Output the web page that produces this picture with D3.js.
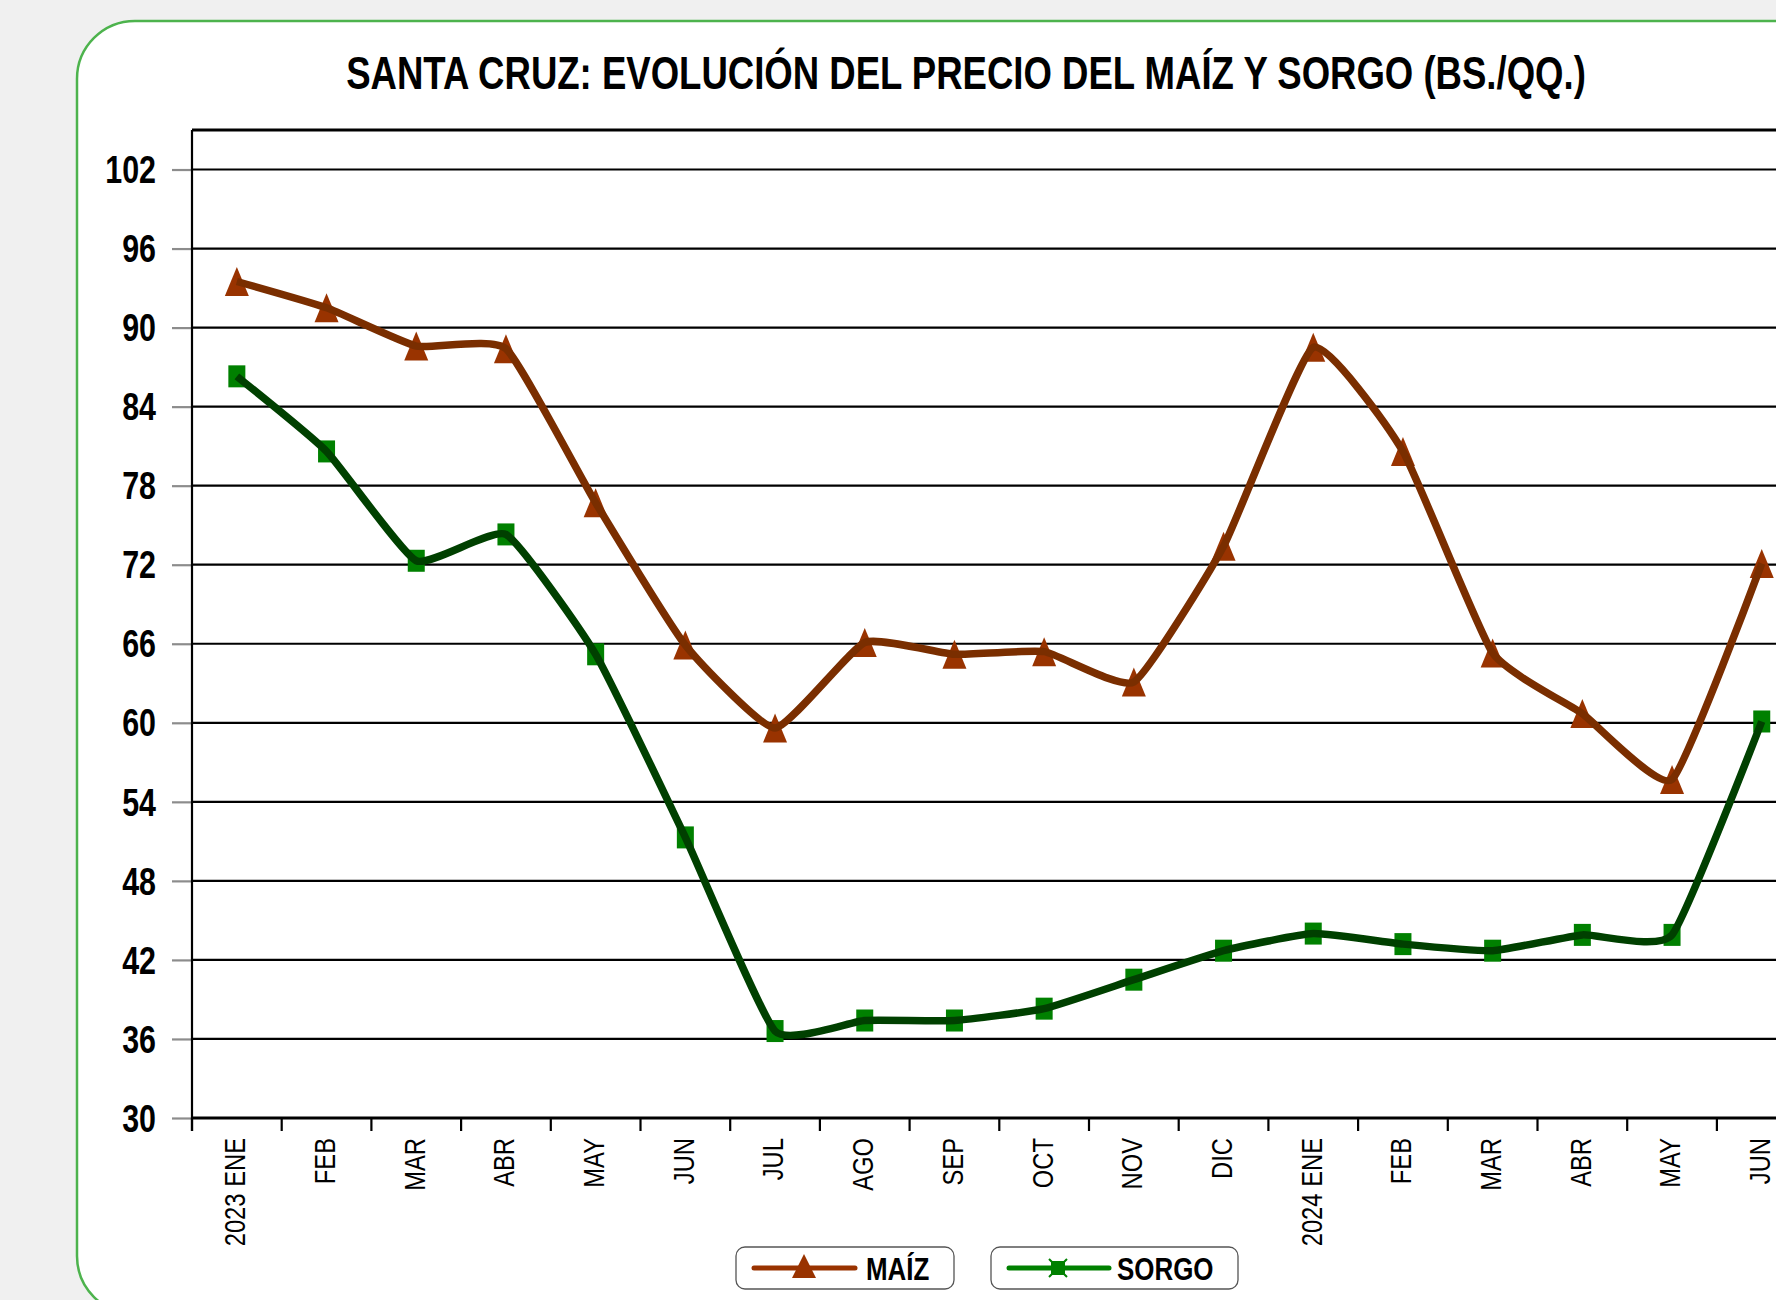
<!DOCTYPE html>
<html><head><meta charset="utf-8">
<script src="https://cdn.jsdelivr.net/npm/d3@7"></script>
<style>html,body{margin:0;padding:0;background:#f0f0f0;overflow:hidden}</style>
</head><body>
<svg id="chart" width="1776" height="1300"></svg>
<script>
const title = "SANTA CRUZ: EVOLUCIÓN DEL PRECIO DEL MAÍZ Y SORGO (BS./QQ.)";
const categories = ["2023 ENE","FEB","MAR","ABR","MAY","JUN","JUL","AGO","SEP","OCT","NOV","DIC","2024 ENE","FEB","MAR","ABR","MAY","JUN"];
const maiz  = [93.5, 91.5, 88.6, 88.4, 76.7, 65.9, 59.6, 66.1, 65.2, 65.4, 63.1, 73.4, 88.5, 80.6, 65.3, 60.7, 55.7, 72.1];
const sorgo = [86.3, 80.6, 72.3, 74.3, 65.2, 51.3, 36.6, 37.4, 37.4, 38.3, 40.5, 42.7, 44.0, 43.2, 42.7, 43.9, 43.9, 60.1];
const yTicks = [30, 36, 42, 48, 54, 60, 66, 72, 78, 84, 90, 96, 102];
const seriesNames = ["MAÍZ", "SORGO"];

const W = 1776, H = 1300;
const FONT = "'Liberation Sans', Arial, sans-serif";
const svg = d3.select("#chart");

svg.append("rect").attr("width", W).attr("height", H).attr("fill", "#f0f0f0");
svg.append("rect").attr("x", 77).attr("y", 21).attr("width", 1800).attr("height", 1293)
  .attr("rx", 58).attr("fill", "#fff").attr("stroke", "#4db34d").attr("stroke-width", 2.5);

// title (condensed horizontally to the reference width)
const tt = svg.append("text").attr("text-anchor", "middle")
  .attr("font-family", FONT).attr("font-weight", "bold").attr("font-size", 46)
  .attr("fill", "#000").text(title);
const natural = tt.node().getComputedTextLength();
const sx = 1240 / natural;
tt.attr("transform", `translate(966,89) scale(${sx},1)`);

const plot = {left: 192, top: 130, bottom: 1118, step: 89.7};
const x = d3.scaleBand().domain(d3.range(categories.length))
  .range([plot.left, plot.left + plot.step * categories.length]).padding(0);
const y = d3.scaleLinear().domain([30, 105]).range([plot.bottom, plot.top]);
const cx = i => x(i) + x.bandwidth() / 2;

// gridlines
svg.append("g").selectAll("line").data(yTicks.filter(t => t > 30)).join("line")
  .attr("x1", plot.left).attr("x2", W + 10).attr("y1", d => y(d)).attr("y2", d => y(d))
  .attr("stroke", "#000").attr("stroke-width", 2.2);
// top border
svg.append("line").attr("x1", plot.left).attr("x2", W + 10).attr("y1", plot.top).attr("y2", plot.top)
  .attr("stroke", "#000").attr("stroke-width", 3);

// y axis ticks (gray)
const yAxis = svg.append("g").attr("transform", `translate(${plot.left},0)`)
  .call(d3.axisLeft(y).tickValues(yTicks).tickSize(20).tickFormat(""));
yAxis.select(".domain").remove();
yAxis.selectAll(".tick line").attr("stroke", "#8c8c8c").attr("stroke-width", 2.2);

// y labels
svg.append("g").selectAll("text").data(yTicks).join("text")
  .attr("transform", d => `translate(156,${y(d)}) scale(0.8,1)`)
  .attr("text-anchor", "end").attr("dy", "0.36em")
  .attr("font-family", FONT).attr("font-weight", "bold").attr("font-size", 38)
  .attr("fill", "#000").text(d => d);

// left axis line
svg.append("line").attr("x1", plot.left).attr("x2", plot.left).attr("y1", plot.top).attr("y2", plot.bottom + 13)
  .attr("stroke", "#000").attr("stroke-width", 2.2);
// x ticks at band boundaries
svg.append("g").selectAll("line").data(d3.range(categories.length + 1)).join("line")
  .attr("x1", k => plot.left + k * x.step()).attr("x2", k => plot.left + k * x.step())
  .attr("y1", plot.bottom).attr("y2", plot.bottom + 13)
  .attr("stroke", "#000").attr("stroke-width", 2.2);
// bottom axis
svg.append("line").attr("x1", plot.left - 1).attr("x2", W + 10).attr("y1", plot.bottom).attr("y2", plot.bottom)
  .attr("stroke", "#000").attr("stroke-width", 3.2);

// x labels rotated
svg.append("g").selectAll("text").data(categories).join("text")
  .attr("transform", (d, i) => `translate(${cx(i) - 2},1138) rotate(-90) scale(0.82,1)`)
  .attr("text-anchor", "end").attr("dy", "0.36em")
  .attr("font-family", FONT).attr("font-size", 29).attr("fill", "#000").text(d => d);

// markers
const tri = "M0,-14.5 L12,14.5 L-12,14.5 Z";
svg.append("g").selectAll("path").data(maiz).join("path")
  .attr("d", tri).attr("transform", (d, i) => `translate(${cx(i)},${y(d)})`)
  .attr("fill", "#993300");
svg.append("g").selectAll("rect").data(sorgo).join("rect")
  .attr("x", (d, i) => cx(i) - 8.5).attr("y", d => y(d) - 11).attr("width", 17).attr("height", 22)
  .attr("fill", "#008000");

// lines (lightly smoothed)
const lineGen = d3.line().x((d, i) => cx(i)).y(d => y(d)).curve(d3.curveCardinal.tension(0.55));
svg.append("path").datum(maiz).attr("d", lineGen).attr("fill", "none")
  .attr("stroke", "#7a2e00").attr("stroke-width", 7.5).attr("stroke-linejoin", "round");
svg.append("path").datum(sorgo).attr("d", lineGen).attr("fill", "none")
  .attr("stroke", "#004000").attr("stroke-width", 7.5).attr("stroke-linejoin", "round");

// legend
const leg = svg.append("g");
const boxes = [
  {x: 736, w: 218, lx1: 754, lx2: 855, mx: 804, tx: 866, color: "#993300"},
  {x: 991, w: 247, lx1: 1009, lx2: 1109, mx: 1058, tx: 1117, color: "#008000"}
];
boxes.forEach((b, i) => {
  leg.append("rect").attr("x", b.x).attr("y", 1247).attr("width", b.w).attr("height", 42).attr("rx", 9)
    .attr("fill", "#fff").attr("stroke", "#555").attr("stroke-width", 1.3);
  leg.append("line").attr("x1", b.lx1).attr("x2", b.lx2).attr("y1", 1268).attr("y2", 1268)
    .attr("stroke", b.color).attr("stroke-width", 5).attr("stroke-linecap", "round");
  if (i === 0) {
    leg.append("path").attr("d", "M0,-13 L12,11 L-12,11 Z").attr("transform", `translate(${b.mx},1267)`).attr("fill", "#993300");
  } else {
    leg.append("rect").attr("x", b.mx - 7).attr("y", 1261).attr("width", 14).attr("height", 14).attr("fill", "#008000");
    leg.append("path").attr("d", "M-9,-9 L9,9 M-9,9 L9,-9").attr("transform", `translate(${b.mx},1268)`)
      .attr("stroke", "#008000").attr("stroke-width", 2);
  }
  leg.append("text").attr("transform", `translate(${b.tx},1280) scale(0.81,1)`)
    .attr("font-family", FONT).attr("font-weight", "bold").attr("font-size", 32).attr("fill", "#000")
    .text(seriesNames[i]);
});
</script>
</body></html>
